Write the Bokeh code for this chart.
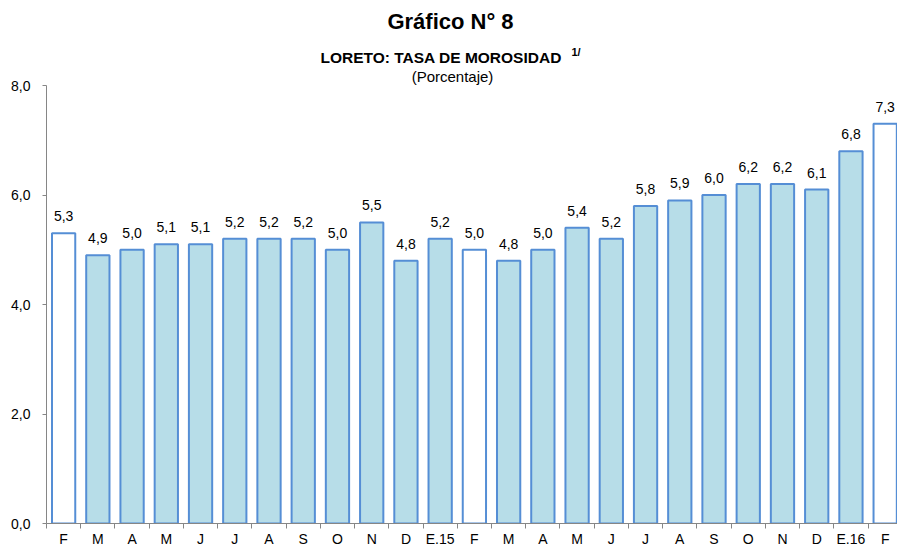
from bokeh.plotting import figure
from bokeh.models import Range1d, FixedTicker, Label
from bokeh.core.properties import value
from bokeh.embed import file_html
from bokeh.resources import INLINE

# ---- data ----
months = ["F", "M", "A", "M", "J", "J", "A", "S", "O", "N", "D", "E.15",
          "F", "M", "A", "M", "J", "J", "A", "S", "O", "N", "D", "E.16", "F"]
tasa = [5.3, 4.9, 5.0, 5.1, 5.1, 5.2, 5.2, 5.2, 5.0, 5.5, 4.8, 5.2,
        5.0, 4.8, 5.0, 5.4, 5.2, 5.8, 5.9, 6.0, 6.2, 6.2, 6.1, 6.8, 7.3]
y_ticks = [0, 2, 4, 6, 8]
y_tick_labels = ["0,0", "2,0", "4,0", "6,0", "8,0"]

FONT = "Liberation Sans"
BAR_FILL = "#B7DDE8"
BAR_LINE = "#558ED5"
AXIS_GRAY = "#868686"

W, H = 897, 550
BL, BB = 46, 27
X0, X1 = -0.5, 24.36
Y_AXIS_TOP_PX = 85          # page y where 8,0 sits
frame_bottom = H - BB
YMAX = 8.0 * frame_bottom / (frame_bottom - Y_AXIS_TOP_PX)

p = figure(width=W, height=H, x_range=Range1d(X0, X1), y_range=Range1d(0, YMAX),
           output_backend="svg", toolbar_location=None,
           min_border_left=BL, min_border_right=0, min_border_top=0,
           min_border_bottom=BB)
p.outline_line_color = None
p.xgrid.visible = False
p.ygrid.visible = False
p.background_fill_color = "white"
p.border_fill_color = "white"

idx = list(range(len(months)))
fills = ["white" if m == "F" else BAR_FILL for m in months]
p.vbar(x=idx, top=tasa, width=0.68, fill_color=fills,
       line_color=BAR_LINE, line_width=2)

labels = [f"{v:.1f}".replace(".", ",") for v in tasa]
p.text(x=idx, y=tasa, text=labels, text_align="center",
       text_baseline="alphabetic", y_offset=-17,
       text_font=value(FONT), text_font_size="14px", text_color="black")

# x axis
xa = p.xaxis[0]
xa.ticker = FixedTicker(ticks=idx, minor_ticks=[i - 0.5 for i in range(len(months) + 1)])
xa.major_label_overrides = {i: m for i, m in enumerate(months)}
xa.major_tick_out = 0
xa.major_tick_in = 0
xa.minor_tick_out = 5
xa.minor_tick_in = 0
xa.minor_tick_line_color = AXIS_GRAY
xa.axis_line_color = AXIS_GRAY
xa.major_label_standoff = 2
xa.major_label_text_font = FONT
xa.major_label_text_font_size = "14px"
xa.major_label_text_color = "black"

# y axis
ya = p.yaxis[0]
ya.ticker = FixedTicker(ticks=y_ticks)
ya.bounds = (0, 8)
ya.major_label_overrides = {t: l for t, l in zip(y_ticks, y_tick_labels)}
ya.major_tick_out = 4
ya.major_tick_in = 0
ya.minor_tick_line_color = None
ya.major_tick_line_color = AXIS_GRAY
ya.axis_line_color = AXIS_GRAY
ya.major_label_standoff = 12
ya.major_label_text_font = FONT
ya.major_label_text_font_size = "14px"
ya.major_label_text_color = "black"

# page pixel -> data helpers (layout of titles only)
frame_left = BL
frame_right = W
sx = (frame_right - frame_left) / (X1 - X0)
sy = frame_bottom / YMAX


def px2x(px):
    return (px - frame_left) / sx + X0


def py2y(py):
    return (frame_bottom - py) / sy


p.add_layout(Label(x=px2x(450), y=py2y(21), text="Gráfico N° 8",
                   text_align="center", text_baseline="alphabetic",
                   text_font=FONT, text_font_size="22px",
                   text_font_style="bold", text_color="black"))
p.add_layout(Label(x=px2x(320), y=py2y(57), text="LORETO: TASA DE MOROSIDAD",
                   text_align="left", text_baseline="alphabetic",
                   text_font=FONT, text_font_size="15.5px",
                   text_font_style="bold", text_color="black"))
p.add_layout(Label(x=px2x(571), y=py2y(51), text="1/",
                   text_align="left", text_baseline="alphabetic",
                   text_font=FONT, text_font_size="11px",
                   text_font_style="bold", text_color="black"))
p.add_layout(Label(x=px2x(452), y=py2y(76), text="(Porcentaje)",
                   text_align="center", text_baseline="alphabetic",
                   text_font=FONT, text_font_size="15px",
                   text_color="black"))

open("out.html", "w").write(file_html(p, INLINE))
